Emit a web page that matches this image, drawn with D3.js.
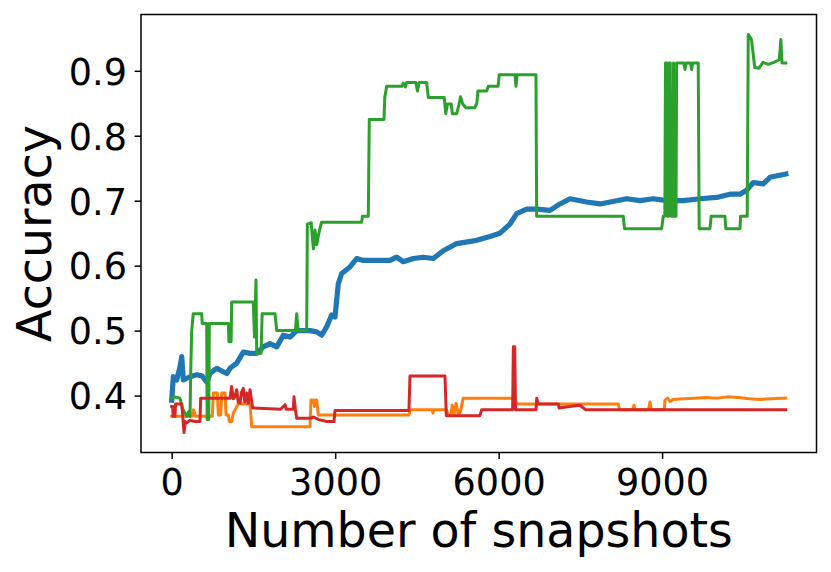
<!DOCTYPE html>
<html>
<head>
<meta charset="utf-8">
<script src="https://cdn.jsdelivr.net/npm/d3@7"></script>
<style>
  html, body { margin: 0; padding: 0; background: #fff; }
  svg { display: block; font-family: "DejaVu Sans", sans-serif; }
</style>
</head>
<body>
<svg id="chart" width="831" height="572"></svg>
<script>
// ---- data (x = number of snapshots, y = accuracy) ----
const xTicks = [0, 3000, 6000, 9000];
const yTicks = [0.4, 0.5, 0.6, 0.7, 0.8, 0.9];
const xLabel = "Number of snapshots";
const yLabel = "Accuracy";

const blueSeries = [
  [0,0.393],[30,0.429],[92,0.424],[152,0.444],[184,0.46],[213,0.424],[336,0.429],[459,0.432],
  [560,0.43],[642,0.421],[703,0.434],[826,0.442],[1009,0.434],[1070,0.442],[1193,0.45],
  [1314,0.467],[1437,0.465],[1560,0.465],[1681,0.475],[1804,0.48],[1927,0.475],[2048,0.493],
  [2171,0.49],[2294,0.5],[2538,0.5],[2661,0.498],[2753,0.493],[2844,0.506],[2936,0.524],
  [2997,0.521],[3057,0.572],[3120,0.588],[3272,0.598],[3395,0.611],[3516,0.608],[4006,0.608],
  [4129,0.613],[4250,0.606],[4433,0.611],[4617,0.613],[4800,0.611],[4984,0.623],[5230,0.634],
  [5597,0.639],[5841,0.645],[6024,0.65],[6208,0.664],[6331,0.68],[6514,0.687],[6698,0.687],
  [6942,0.685],[7125,0.695],[7309,0.703],[7615,0.698],[7859,0.695],[8166,0.7],[8349,0.703],
  [8593,0.7],[8837,0.703],[9083,0.7],[9388,0.7],[9694,0.703],[10001,0.705],[10245,0.71],
  [10429,0.71],[10551,0.716],[10673,0.728],[10856,0.726],[10979,0.736],[11270,0.741]
];

const orangeSeries = [
  [0,0.368],[380,0.368],[400,0.378],[440,0.368],[745,0.368],[764,0.404],[837,0.404],[856,0.37],
  [900,0.37],[918,0.404],[978,0.404],[997,0.37],[1040,0.37],[1058,0.36],[1101,0.36],[1131,0.373],
  [1193,0.383],[1253,0.391],[1284,0.387],[1437,0.387],[1468,0.352],[2538,0.352],[2556,0.393],
  [2600,0.393],[2620,0.383],[2640,0.393],[2661,0.393],[2691,0.37],[4354,0.37],[4373,0.378],
  [4780,0.378],[4795,0.373],[4810,0.378],[5046,0.378],[5070,0.37],[5120,0.37],[5150,0.385],
  [5180,0.37],[5220,0.388],[5260,0.37],[5300,0.376],[5351,0.396],[6300,0.396],[6330,0.387],
  [8195,0.387],[8220,0.378],[8460,0.378],[8483,0.385],[8500,0.378],[8750,0.378],[8777,0.39],
  [8800,0.378],[9040,0.378],[9052,0.393],[9100,0.396],[9150,0.391],[9200,0.394],[9400,0.395],
  [9600,0.396],[9800,0.397],[10000,0.396],[10200,0.398],[10400,0.397],[10600,0.395],
  [10800,0.394],[11000,0.395],[11270,0.396]
];

const greenSeries = [
  [0,0.396],[60,0.398],[150,0.396],[200,0.38],[275,0.368],[310,0.375],[336,0.368],[350,0.44],
  [367,0.5],[396,0.526],[550,0.526],[560,0.511],[642,0.511],[650,0.363],[680,0.363],[690,0.511],
  [1039,0.511],[1050,0.483],[1090,0.483],[1101,0.544],[1497,0.544],[1520,0.49],[1547,0.578],
  [1560,0.465],[1640,0.465],[1660,0.526],[1896,0.526],[1927,0.5],[2270,0.5],[2294,0.526],
  [2320,0.5],[2477,0.5],[2490,0.664],[2560,0.666],[2600,0.626],[2630,0.655],[2660,0.632],
  [2700,0.65],[2750,0.667],[3487,0.667],[3500,0.676],[3608,0.676],[3626,0.825],[3896,0.825],
  [3910,0.859],[3945,0.876],[4221,0.876],[4250,0.881],[4290,0.875],[4310,0.882],[4480,0.882],
  [4510,0.869],[4540,0.882],[4679,0.882],[4709,0.859],[5000,0.859],[5030,0.834],[5060,0.849],
  [5130,0.849],[5150,0.834],[5230,0.834],[5272,0.848],[5300,0.86],[5340,0.849],[5400,0.843],
  [5560,0.843],[5600,0.85],[5620,0.869],[5780,0.869],[5810,0.876],[5990,0.876],[6011,0.894],
  [6300,0.894],[6318,0.876],[6340,0.894],[6685,0.894],[6698,0.676],[8287,0.676],[8310,0.657],
  [8992,0.657],[9021,0.676],[9050,0.676],[9062,0.912],[9085,0.912],[9097,0.676],[9115,0.676],
  [9127,0.912],[9150,0.912],[9162,0.676],[9200,0.676],[9210,0.912],[9222,0.676],[9255,0.676],
  [9267,0.912],[9400,0.912],[9420,0.902],[9440,0.912],[9520,0.912],[9542,0.902],[9560,0.912],
  [9663,0.912],[9680,0.657],[9878,0.657],[9900,0.676],[10153,0.676],[10170,0.657],[10429,0.657],
  [10440,0.676],[10562,0.676],[10581,0.956],[10640,0.948],[10700,0.905],[10780,0.904],
  [10850,0.913],[10950,0.91],[11050,0.913],[11150,0.917],[11180,0.948],[11200,0.912],[11270,0.912]
];

const redSeries = [
  [0,0.383],[18,0.383],[25,0.368],[61,0.368],[70,0.387],[184,0.387],[226,0.343],[250,0.36],
  [275,0.358],[336,0.362],[428,0.36],[519,0.36],[532,0.396],[1070,0.396],[1101,0.414],
  [1130,0.395],[1162,0.398],[1193,0.409],[1220,0.39],[1253,0.388],[1280,0.405],[1314,0.411],
  [1340,0.39],[1376,0.404],[1406,0.388],[1437,0.409],[1486,0.381],[1700,0.38],[2000,0.379],
  [2079,0.386],[2100,0.379],[2231,0.379],[2244,0.398],[2270,0.379],[2294,0.365],[2538,0.365],
  [2600,0.367],[2700,0.363],[2844,0.36],[2978,0.36],[2997,0.377],[4354,0.377],[4373,0.43],
  [5015,0.43],[5040,0.369],[5657,0.369],[5688,0.378],[6257,0.378],[6270,0.475],[6295,0.475],
  [6310,0.378],[6685,0.378],[6700,0.396],[6720,0.387],[7094,0.387],[7110,0.381],[7300,0.383],
  [7492,0.385],[7600,0.378],[8441,0.378],[11270,0.378]
];

const seriesList = [
  { data: blueSeries,   color: "#1f77b4", width: 5.2 },
  { data: orangeSeries, color: "#ff7f0e", width: 3 },
  { data: greenSeries,  color: "#2ca02c", width: 3 },
  { data: redSeries,    color: "#d62728", width: 3 }
];

// ---- layout ----
const plot = { left: 141, right: 816.5, top: 14.5, bottom: 452.5 };
const svg = d3.select("#chart");

const all = seriesList.flatMap(s => s.data);
const [x0, x1] = d3.extent(all, d => d[0]);
const [y0, y1] = d3.extent(all, d => d[1]);
const mx = (x1 - x0) * 0.05, my = (y1 - y0) * 0.05;

const x = d3.scaleLinear().domain([x0 - mx, x1 + mx]).range([plot.left, plot.right]);
const y = d3.scaleLinear().domain([y0 - my, y1 + my]).range([plot.bottom, plot.top]);

svg.append("clipPath").attr("id", "clip").append("rect")
  .attr("x", plot.left).attr("y", plot.top)
  .attr("width", plot.right - plot.left).attr("height", plot.bottom - plot.top);

const line = d3.line().x(d => x(d[0])).y(d => y(d[1]));

const g = svg.append("g").attr("clip-path", "url(#clip)");
seriesList.forEach(s => {
  g.append("path").datum(s.data)
    .attr("d", line)
    .attr("fill", "none")
    .attr("stroke", s.color)
    .attr("stroke-width", s.width)
    .attr("stroke-linejoin", "round")
    .attr("stroke-linecap", "square");
});

// axes
const fontTick = 36.6;
const xAxis = d3.axisBottom(x).tickValues(xTicks).tickFormat(d3.format("d"))
  .tickSize(6.4).tickPadding(6.4);
const yAxis = d3.axisLeft(y).tickValues(yTicks).tickFormat(d3.format(".1f"))
  .tickSize(6.4).tickPadding(6.4);

const gx = svg.append("g").attr("transform", `translate(0,${plot.bottom})`).call(xAxis);
const gy = svg.append("g").attr("transform", `translate(${plot.left},0)`).call(yAxis);
[gx, gy].forEach(a => {
  a.select(".domain").remove();
  a.selectAll(".tick line").attr("stroke", "#000").attr("stroke-width", 1.5);
  a.selectAll(".tick text").attr("fill", "#000")
    .style("font-family", "'DejaVu Sans', sans-serif").style("font-size", fontTick + "px");
});
gx.selectAll(".tick text").attr("dy", null).attr("y", 42.5);
gy.selectAll(".tick text").attr("dy", null).attr("y", fontTick * 0.364).attr("x", -14);

// frame
svg.append("rect")
  .attr("x", plot.left).attr("y", plot.top)
  .attr("width", plot.right - plot.left).attr("height", plot.bottom - plot.top)
  .attr("fill", "none").attr("stroke", "#000").attr("stroke-width", 1.5);

// labels
svg.append("text")
  .attr("x", (plot.left + plot.right) / 2).attr("y", 547)
  .attr("text-anchor", "middle")
  .style("font-size", "47.5px").attr("fill", "#000")
  .text(xLabel);

svg.append("text")
  .attr("transform", `translate(51,${(plot.top + plot.bottom) / 2}) rotate(-90)`)
  .attr("text-anchor", "middle")
  .style("font-size", "47.5px").attr("fill", "#000")
  .text(yLabel);
</script>
</body>
</html>
